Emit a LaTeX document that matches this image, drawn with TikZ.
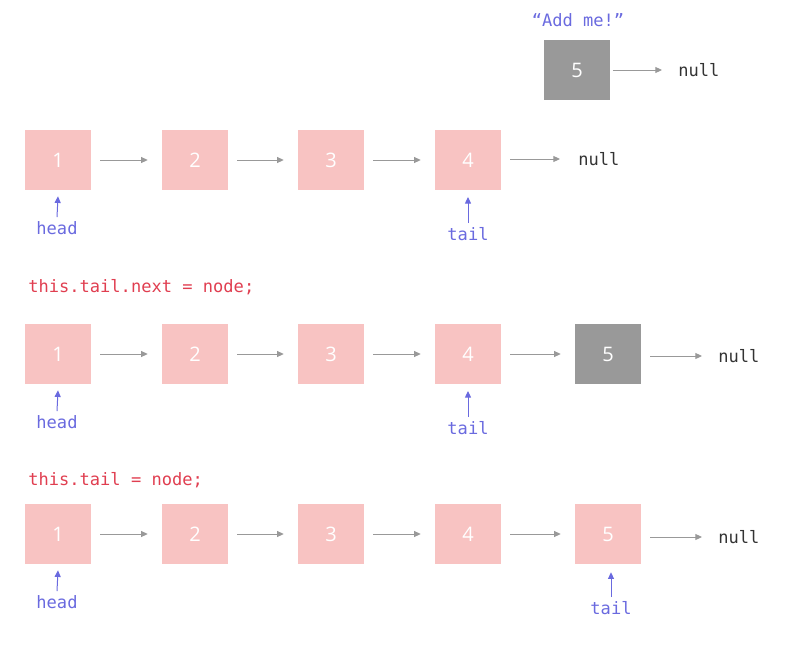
\documentclass[tikz,border=0pt]{standalone}
\usepackage{fontspec}
\setmainfont{Open Sans}
\newfontfamily\monof{DejaVu Sans Mono}
\usetikzlibrary{arrows.meta}
\definecolor{pinkbox}{HTML}{F8C3C2}
\definecolor{graybox}{HTML}{999999}
\definecolor{ptrblue}{HTML}{6A6ADF}
\definecolor{codered}{HTML}{E03E50}
\definecolor{arrgray}{HTML}{999999}
\definecolor{nulltxt}{HTML}{333333}
\tikzset{
  pbox/.style={fill=pinkbox, minimum width=49.5pt, minimum height=45pt, inner sep=0pt, text=white, font=\fontsize{15}{17}\selectfont},
  gbox/.style={pbox, fill=graybox},
  link/.style={draw=arrgray, line width=0.75pt, -{Triangle[length=5pt,width=4.5pt]}},
  ptr/.style={draw=ptrblue, line width=0.75pt, -{Triangle[length=5pt,width=4.5pt]}},
  nulllbl/.style={text=nulltxt, font=\monof\fontsize{12.8}{14}\selectfont, inner sep=0pt, anchor=west},
  ptrlbl/.style={text=ptrblue, font=\monof\fontsize{12.8}{14}\selectfont, inner sep=0pt},
  codelbl/.style={text=codered, font=\monof\fontsize{12.8}{14}\selectfont, inner sep=0pt, anchor=west},
}
\begin{document}
\begin{tikzpicture}[x=0.75pt, y=-0.75pt]
\useasboundingbox (0,0) rectangle (800,650);

% top: add me
\node[ptrlbl] (add) at (578,20) {“Add me!”};
\node[gbox] (n5) at (577,70) {5};
\node[nulllbl] (nl0) at (678,70) {null};
\draw[link] ([xshift=2pt]n5.east |- nl0.west) -- ([xshift=-12pt]nl0.west);

% row 1
\foreach \i/\x in {1/58,2/195,3/331,4/468}{
  \node[pbox] (a\i) at (\x,160) {\i};
}
\node[nulllbl] (nl1) at (578,159) {null};
\draw[link] ([xshift=6.75pt]a1.east) -- ([xshift=-10.5pt]a2.west);
\draw[link] ([xshift=6.75pt]a2.east) -- ([xshift=-10.5pt]a3.west);
\draw[link] ([xshift=6.75pt]a3.east) -- ([xshift=-10.5pt]a4.west);
\draw[link] ([xshift=6.75pt]a4.east |- nl1.west) -- ([xshift=-13.5pt]nl1.west);
\node[ptrlbl] (h1) at (57,228) {head};
\node[ptrlbl] (t1) at (468,234) {tail};
\draw[ptr] ([yshift=3pt]h1.north) -- ([yshift=-4.5pt]a1.south);
\draw[ptr] ([yshift=3pt]t1.north) -- ([yshift=-5pt]a4.south);

% row 2
\node[codelbl] (c2) at (28,287) {this.tail.next = node;};
\foreach \i/\x in {1/58,2/195,3/331,4/468}{
  \node[pbox] (b\i) at (\x,354) {\i};
}
\node[gbox] (b5) at (608,354) {5};
\node[nulllbl] (nl2) at (718,356) {null};
\draw[link] ([xshift=6.75pt]b1.east) -- ([xshift=-10.5pt]b2.west);
\draw[link] ([xshift=6.75pt]b2.east) -- ([xshift=-10.5pt]b3.west);
\draw[link] ([xshift=6.75pt]b3.east) -- ([xshift=-10.5pt]b4.west);
\draw[link] ([xshift=6.75pt]b4.east) -- ([xshift=-10.5pt]b5.west);
\draw[link] ([xshift=6.75pt]b5.east |- nl2.west) -- ([xshift=-12pt]nl2.west);
\node[ptrlbl] (h2) at (57,422) {head};
\node[ptrlbl] (t2) at (468,428) {tail};
\draw[ptr] ([yshift=3pt]h2.north) -- ([yshift=-4.5pt]b1.south);
\draw[ptr] ([yshift=3pt]t2.north) -- ([yshift=-5pt]b4.south);

% row 3
\node[codelbl] (c3) at (28,480) {this.tail = node;};
\foreach \i/\x in {1/58,2/195,3/331,4/468,5/608}{
  \node[pbox] (d\i) at (\x,534) {\i};
}
\node[nulllbl] (nl3) at (718,537) {null};
\draw[link] ([xshift=6.75pt]d1.east) -- ([xshift=-10.5pt]d2.west);
\draw[link] ([xshift=6.75pt]d2.east) -- ([xshift=-10.5pt]d3.west);
\draw[link] ([xshift=6.75pt]d3.east) -- ([xshift=-10.5pt]d4.west);
\draw[link] ([xshift=6.75pt]d4.east) -- ([xshift=-10.5pt]d5.west);
\draw[link] ([xshift=6.75pt]d5.east |- nl3.west) -- ([xshift=-12pt]nl3.west);
\node[ptrlbl] (h3) at (57,602) {head};
\node[ptrlbl] (t3) at (611,608) {tail};
\draw[ptr] ([yshift=3pt]h3.north) -- ([yshift=-4.5pt]d1.south);
\coordinate (d5t) at ([yshift=-6pt]d5.south);
\draw[ptr] ([yshift=3pt]t3.north) -- (t3.north |- d5t);
\end{tikzpicture}
\end{document}
